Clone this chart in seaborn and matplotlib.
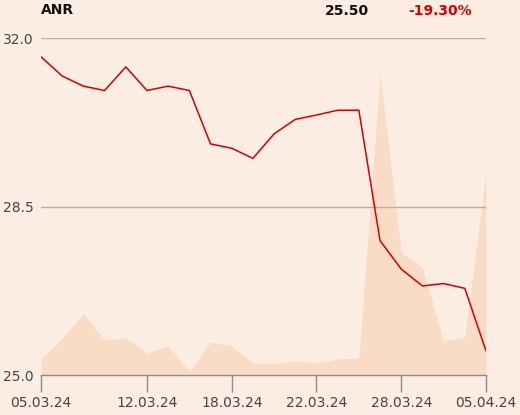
import matplotlib
matplotlib.use("Agg")
import matplotlib.pyplot as plt
import seaborn as sns
import pandas as pd
import numpy as np

# ---- data ----
dates = ["05.03.24", "06.03.24", "07.03.24", "08.03.24", "11.03.24", "12.03.24",
         "13.03.24", "14.03.24", "15.03.24", "18.03.24", "19.03.24", "20.03.24",
         "21.03.24", "22.03.24", "25.03.24", "26.03.24", "27.03.24", "28.03.24",
         "02.04.24", "03.04.24", "04.04.24", "05.04.24"]
prices = [31.61, 31.21, 31.00, 30.91, 31.40, 30.91, 31.00, 30.91, 29.80, 29.71,
          29.50, 30.01, 30.31, 30.40, 30.50, 30.50, 27.79, 27.20, 26.85, 26.90,
          26.80, 25.50]
volumes = [16, 37, 61, 35, 37, 22, 29, 4, 33, 29, 12, 11, 14, 12, 16, 17,
           300, 123, 107, 34, 38, 203]
tick_labels = ["05.03.24", "12.03.24", "18.03.24", "22.03.24", "28.03.24", "05.04.24"]
y_ticks = [25.0, 28.5, 32.0]
ticker = "ANR"
last_price = "25.50"
change = "-19.30%"

df = pd.DataFrame({"date": dates, "price": prices, "volume": volumes})
df["idx"] = range(len(df))

BG = "#FBEDE1"
VOL = "#F8DCC6"
RED = "#D70000"

sns.set_theme(style="white")
plt.rcParams["font.family"] = ["DejaVu Sans"]

fig = plt.figure(figsize=(5.2, 4.15), dpi=100, facecolor=BG)
ax = fig.add_axes([41/520, 1-375/415, (486-41)/520, (375-38)/415])
ax2 = ax.twinx()
ax2.set_zorder(1)
ax.set_zorder(2)
ax.patch.set_visible(False)
ax2.set_facecolor(BG)

# volume area
ax2.fill_between(df["idx"], 0, df["volume"], color=VOL, lw=0)
ax2.set_ylim(0, 337)
ax2.set_yticks([])
for s in ax2.spines.values():
    s.set_visible(False)

# grid lines
for yv in y_ticks[1:]:
    ax.axhline(yv, color="#B5B0AB", lw=1, zorder=0)

sns.lineplot(data=df, x="idx", y="price", ax=ax, color=RED, lw=1.1)

ax.set_xlim(0, len(df)-1)
ax.set_ylim(25.0, 32.0)
ax.set_yticks(y_ticks)
ax.set_yticklabels([f"{v:.1f}" for v in y_ticks])
tick_pos = [dates.index(t) for t in tick_labels]
ax.set_xticks(tick_pos)
ax.set_xticklabels(tick_labels)
ax.set_xlabel("")
ax.set_ylabel("")
for s in ["top", "right", "left"]:
    ax.spines[s].set_visible(False)
ax.spines["bottom"].set_color("#8C8C8C")
ax.spines["bottom"].set_linewidth(1)
ax.tick_params(axis="y", length=0, pad=5.5, labelsize=10, labelcolor="#444444")
ax.tick_params(axis="x", length=12, width=1, color="#8C8C8C", pad=3,
               labelsize=10, labelcolor="#444444", bottom=True)

fig.text(41/520, 1-10/415, ticker, fontsize=10, fontweight="bold", color="#111111",
         ha="left", va="center")
fig.text(369/520, 1-11/415, last_price, fontsize=10, fontweight="bold", color="#111111",
         ha="right", va="center")
fig.text(472/520, 1-11/415, change, fontsize=10, fontweight="bold", color=RED,
         ha="right", va="center")

fig.savefig("out.png", dpi=100, facecolor=BG)
